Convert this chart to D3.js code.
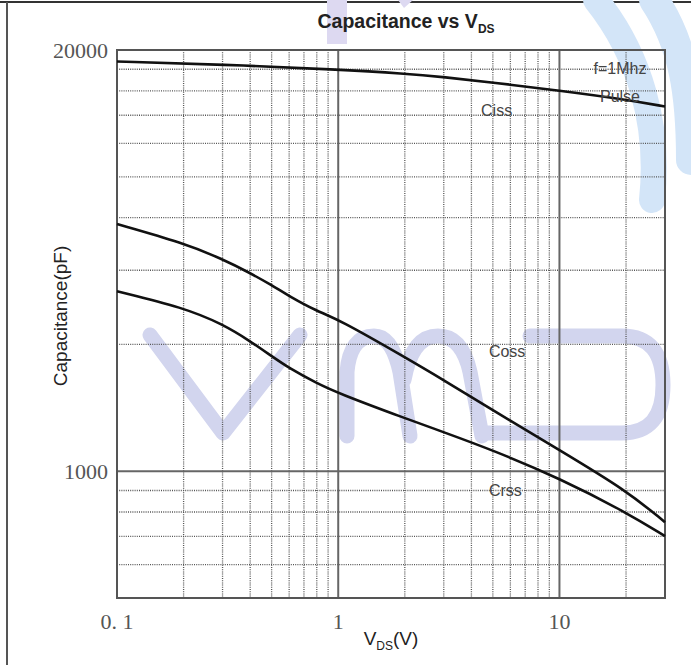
<!DOCTYPE html>
<html>
<head>
<meta charset="utf-8">
<script src="https://cdn.jsdelivr.net/npm/d3@7"></script>
<style>
  html, body { margin: 0; padding: 0; background: #fff; }
  svg { display: block; }
</style>
</head>
<body>
<svg id="chart" width="691" height="665"></svg>
<script>
// Drain-source voltage (V) sample points and capacitances (pF)
const ciss = [
  [0.1, 18430], [0.3, 18040], [1, 17410], [2, 16920], [3, 16500],
  [5, 15870], [10, 14990], [20, 14060], [30, 13380]
];
const coss = [
  [0.1, 5800], [0.2, 5065], [0.3, 4520], [0.4, 4092], [0.5, 3757],
  [0.6, 3474], [0.8, 3122], [1, 2949], [2, 2250], [3, 1911],
  [5, 1543], [10, 1161], [20, 873], [30, 696]
];
const crss = [
  [0.1, 3599], [0.2, 3201], [0.3, 2847], [0.4, 2522], [0.5, 2267],
  [0.6, 2081], [0.8, 1870], [1, 1742], [2, 1458], [3, 1320],
  [5, 1161], [10, 951], [20, 747], [30, 630]
];

// Printed log grid (one decade plus the 500-1000 strip)
const gridMajorY = [1000];
const gridMinorY = [600, 700, 800, 900, 2000, 3000, 4000, 5000, 6000, 7000, 8000, 9000];
const gridMajorX = [1, 10];
const gridMinorX = [0.2, 0.3, 0.4, 0.5, 0.6, 0.7, 0.8, 0.9, 2, 3, 4, 5, 6, 7, 8, 9, 20];

// Axis calibration labels
const yTickValues = [1000, 20000];
const yTickLabels = ["1000", "20000"];
const xTickValues = [0.1, 1, 10];
const xTickLabels = ["0. 1", "1", "10"];

// Curve labels (placed at V, pF)
const curveLabels = [
  { text: "Ciss", v: 5.2, c: 12500 },
  { text: "Coss", v: 5.8, c: 2250 },
  { text: "Crss", v: 5.7, c: 840 }
];
const noteLines = ["f=1Mhz", "Pulse"];

const svg = d3.select("#chart");
const L = 117, R = 665, T = 50, B = 598;

const x = d3.scaleLog().domain([0.1, 30]).range([L, R]);
// paper grid scale
const gy = d3.scaleLog().domain([500, 10000]).range([B, T]);
// calibrated capacitance scale: 1000 and 20000 pF as printed on the axis
const y = d3.scaleLog().domain([1000, 20000]).range([gy(1000), gy(10000)]);

// page frame
svg.append("line").attr("x1", 0).attr("x2", 691).attr("y1", 2).attr("y2", 2)
  .attr("stroke", "#333").attr("stroke-width", 2);
svg.append("line").attr("x1", 7).attr("x2", 7).attr("y1", 2).attr("y2", 665)
  .attr("stroke", "#555").attr("stroke-width", 2);

// background logo shapes (watermark)
const wm = svg.append("g").attr("fill", "none").attr("stroke-linecap", "round").attr("stroke-linejoin", "round");
wm.append("path").attr("d", "M 596 0 C 640 55 660 125 652 200").attr("stroke", "#d3e5f8").attr("stroke-width", 26);
wm.append("path").attr("d", "M 654 0 C 684 45 691 95 691 160").attr("stroke", "#d3e5f8").attr("stroke-width", 30);
svg.append("path").attr("d", "M 327 0 L 347 0 L 347 44 L 327 44 Z").attr("fill", "#ddd9f1");
svg.append("path").attr("d", "M 398 0 L 413 0 L 404 8 Z").attr("fill", "#ddd9f1");

// watermark letters
const wl = svg.append("g").attr("fill", "none").attr("stroke", "#d2d5ee")
  .attr("stroke-width", 15).attr("stroke-linecap", "round").attr("stroke-linejoin", "round");
wl.append("path").attr("d", "M 150 335 L 223 433 L 300 335");
wl.append("path").attr("d", "M 347 436 L 347 372 Q 350 336 374 336 Q 392 336 400 372 L 410 436 M 404 380 Q 412 336 438 336 Q 462 336 470 372 L 482 436");
wl.append("path").attr("d", "M 530 336 L 622 336 Q 663 336 663 385 Q 663 433 622 433 L 487 433");

// dotted minor grid
const grid = svg.append("g").attr("stroke", "#555").attr("stroke-width", 1.3).attr("stroke-dasharray", "1,1.2");
grid.selectAll(".vminor").data(gridMinorX).join("line").attr("class", "vminor")
  .attr("x1", d => x(d)).attr("x2", d => x(d)).attr("y1", T).attr("y2", B);
grid.selectAll(".hminor").data(gridMinorY).join("line").attr("class", "hminor")
  .attr("x1", L).attr("x2", R).attr("y1", d => gy(d)).attr("y2", d => gy(d));

// major grid lines
svg.append("g").selectAll("line").data(gridMajorX).join("line")
  .attr("x1", d => x(d)).attr("x2", d => x(d)).attr("y1", T).attr("y2", B)
  .attr("stroke", "#666").attr("stroke-width", 2);
svg.append("g").selectAll("line").data(gridMajorY).join("line")
  .attr("x1", L).attr("x2", R).attr("y1", d => gy(d)).attr("y2", d => gy(d))
  .attr("stroke", "#666").attr("stroke-width", 2);

// plot frame
svg.append("rect").attr("x", L).attr("y", T).attr("width", R - L).attr("height", B - T)
  .attr("fill", "none").attr("stroke", "#555").attr("stroke-width", 2);

// curves
const line = d3.line().x(d => x(d[0])).y(d => y(d[1])).curve(d3.curveBasis);
svg.append("g").selectAll("path").data([ciss, coss, crss]).join("path")
  .attr("d", line).attr("fill", "none").attr("stroke", "#111").attr("stroke-width", 2.6);

// y tick labels
svg.append("g").selectAll("text").data(yTickValues).join("text")
  .attr("x", 108).attr("y", d => y(d)).attr("dy", "0.36em")
  .attr("text-anchor", "end")
  .attr("font-family", "'Liberation Serif', 'Times New Roman', serif")
  .attr("font-size", 22).attr("fill", "#555")
  .text((d, i) => yTickLabels[i]);

// x tick labels
svg.append("g").selectAll("text").data(xTickValues).join("text")
  .attr("x", d => x(d)).attr("y", 629)
  .attr("text-anchor", "middle")
  .attr("font-family", "'Liberation Serif', 'Times New Roman', serif")
  .attr("font-size", 22).attr("fill", "#555")
  .text((d, i) => xTickLabels[i]);

// curve labels
const sans = "'Liberation Sans', Arial, Helvetica, sans-serif";
svg.append("g").selectAll("text").data(curveLabels).join("text")
  .attr("x", d => x(d.v)).attr("y", d => y(d.c))
  .attr("text-anchor", "middle").attr("font-family", sans)
  .attr("font-size", 16).attr("fill", "#444")
  .text(d => d.text);
svg.append("g").selectAll("text").data(noteLines).join("text")
  .attr("x", 620).attr("y", (d, i) => 74 + i * 28)
  .attr("text-anchor", "middle").attr("font-family", sans)
  .attr("font-size", 16).attr("fill", "#444")
  .text(d => d);

// title
const title = svg.append("text").attr("x", 406).attr("y", 28)
  .attr("text-anchor", "middle").attr("font-family", sans)
  .attr("font-weight", "bold").attr("font-size", 19.5).attr("fill", "#222");
title.append("tspan").text("Capacitance vs V");
title.append("tspan").attr("font-size", 12).attr("dy", 5).text("DS");

// axis titles
const xt = svg.append("text").attr("x", 391).attr("y", 645)
  .attr("text-anchor", "middle").attr("font-family", sans)
  .attr("font-size", 19).attr("fill", "#222");
xt.append("tspan").text("V");
xt.append("tspan").attr("font-size", 12).attr("dy", 5).text("DS");
xt.append("tspan").attr("dy", -5).text("(V)");

svg.append("text")
  .attr("transform", "translate(67,316) rotate(-90)")
  .attr("text-anchor", "middle").attr("font-family", sans)
  .attr("font-size", 19).attr("fill", "#222")
  .text("Capacitance(pF)");
</script>
</body>
</html>
